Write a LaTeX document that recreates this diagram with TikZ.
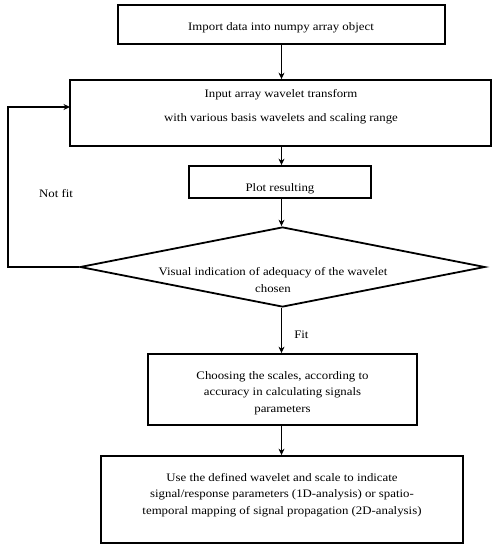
\documentclass[tikz,border=0pt]{standalone}
\usepackage{fontspec}
\setmainfont{Liberation Serif}[FakeStretch=1.12]
\usetikzlibrary{shapes.geometric,arrows.meta}
\tikzset{
  box/.style={draw=black, line width=1.8pt, inner sep=0pt},
  dia/.style={draw=black, line width=1.8pt, diamond, aspect=5, inner sep=0pt},
  txt/.style={inner sep=0pt, align=center, font=\fontsize{11.5}{16.5}\selectfont},
  arr/.style={draw=black, line width=1.5pt, -{Stealth[length=6.5pt,width=6pt]}},
  lbl/.style={font=\fontsize{11.5}{13}\selectfont, inner sep=0pt}
}
\begin{document}
\begin{tikzpicture}[x=1bp,y=-1bp]
\useasboundingbox (0,0) rectangle (498,550);
\node[box, minimum width=327bp, minimum height=39bp] (b1) at (281.5,24.5) {};
\node[txt] (t1) at (281,27.5) {Import data into numpy array object};
\node[box, minimum width=421bp, minimum height=66bp] (b2) at (280.5,113) {};
\node[txt, font=\fontsize{11.5}{24}\selectfont] (t2) at (281,106.5) {Input array wavelet transform\\with various basis wavelets and scaling range};
\node[box, minimum width=182bp, minimum height=32bp] (b3) at (280,182) {};
\node[txt] (t3) at (280,188.5) {Plot resulting};
\node[dia, minimum width=405bp, minimum height=80bp] (d) at (282.5,267) {};
\node[txt] (td) at (273,280) {Visual indication of adequacy of the wavelet\\chosen};
\node[box, minimum width=269bp, minimum height=71bp] (b4) at (282.5,389.5) {};
\node[txt] (t4) at (282.5,393) {Choosing the scales, according to\\accuracy in calculating signals\\parameters};
\node[box, minimum width=362bp, minimum height=87bp] (b5) at (282,499.5) {};
\node[txt] (t5) at (282,495) {Use the defined wavelet and scale to indicate\\signal/response parameters (1D-analysis) or spatio-\\temporal mapping of signal propagation (2D-analysis)};
\coordinate (loop) at (8,267);
\coordinate (entry) at (70,107);
\draw[arr] (281.5,44) coordinate (s1) -- (s1 |- b2.north);
\draw[arr] (b2.south -| s1) -- (s1 |- b3.north);
\draw[arr] (b3.south -| s1) -- (s1 |- d.north);
\draw[arr] (d.south -| s1) -- (s1 |- b4.north) node[pos=0.6, right=12bp, lbl] (fit) {Fit};
\draw[arr] (b4.south -| s1) -- (s1 |- b5.north);
\draw[arr] (d.west) -- (loop) |- (entry);
\node[lbl] (nf) at (56,194) {Not fit};
\end{tikzpicture}
\end{document}
